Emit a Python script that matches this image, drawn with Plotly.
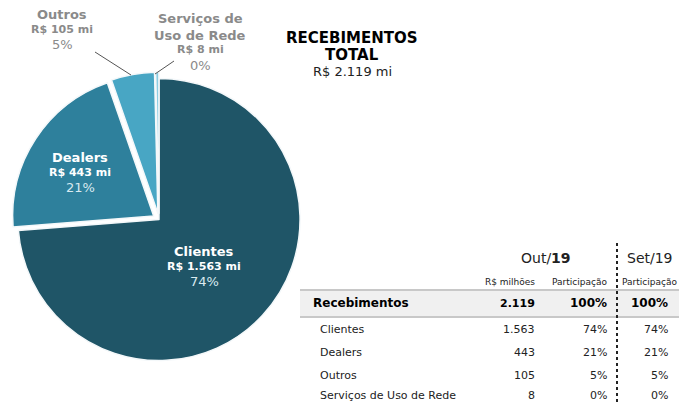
import plotly.graph_objects as go

W, H = 679, 402

categories = ["Clientes", "Dealers", "Outros", "Serviços de Uso de Rede"]
values_mi = [1563, 443, 105, 8]
share_out = [74, 21, 5, 0]
share_set = [74, 21, 5, 0]
total_mi = 2119
colors = ["#1f5567", "#2e809c", "#48a6c4", "#8ccde2"]

FONT = "DejaVu Sans, Verdana, sans-serif"
GRAY = "#8a8a8a"


def br(n):
    return f"{n:,}".replace(",", ".")


def px(x):
    return x / W


def py(y):
    return 1 - y / H


fig = go.Figure()
fig.add_trace(go.Pie(
    labels=categories, values=values_mi, sort=False, direction="clockwise",
    rotation=0, pull=[0, 0.045, 0.045, 0.045], textinfo="none",
    marker=dict(colors=colors, line=dict(color="#f4f8fa", width=1.5)),
    domain=dict(x=[px(11.6), px(306.4)], y=[py(367), py(72)]),
    showlegend=False, hoverinfo="label+value+percent",
))

ann = []


def txt(x, y, s, size=12, color="black", bold=False, anchor="center"):
    if bold:
        s = f"<b>{s}</b>"
    ann.append(dict(x=px(x), y=py(y), xref="paper", yref="paper", text=s,
                    showarrow=False, xanchor=anchor, yanchor="middle",
                    font=dict(family=FONT, size=size, color=color)))


# slice labels
lab_pos = [(204, 251, "white", "#d9eaf0"), (80, 157, "white", "#d9eaf0"),
           (62, 15, GRAY, GRAY), (200, 19, GRAY, GRAY)]
for i, cat in enumerate(categories):
    x, y, c, pc = lab_pos[i]
    names = ["Serviços de", "Uso de Rede"] if i == 3 else [cat]
    for j, nm in enumerate(names):
        txt(x, y + j * 16, nm, 13, c, True)
    yy = y + len(names) * 16 - 1
    txt(x, yy, f"R$ {br(values_mi[i])} mi", 11, c, True)
    txt(x, yy + 15, f"{share_out[i]}%", 13, pc)

# title
txt(352, 38, "RECEBIMENTOS", 15, "black", True)
txt(352, 55, "TOTAL", 15, "black", True)
txt(352, 72, f"R$ {br(total_mi)} mi", 13, "#222")

# table headers
txt(546, 258, "Out/<b>19</b>", 14, "#222")
txt(650, 258, "Set/19", 14, "#222")
txt(537, 282, "R$ milhões", 9, "#222", anchor="right")
txt(609, 282, "Participação", 9, "#222", anchor="right")
txt(679, 282, "Participação", 9, "#222", anchor="right")

# total row
txt(311, 303, "Recebimentos", 12, "black", True, "left")
txt(537, 303, br(total_mi), 11, "black", True, "right")
txt(609, 303, f"{sum(share_out)}%", 12, "black", True, "right")
txt(670, 303, f"{sum(share_set)}%", 12, "black", True, "right")

row_y = [329, 352, 375, 395]
for i, cat in enumerate(categories):
    y = row_y[i]
    txt(318, y, cat, 11, "#222", anchor="left")
    txt(537, y, br(values_mi[i]), 11, "#222", anchor="right")
    txt(609, y, f"{share_out[i]}%", 11, "#222", anchor="right")
    txt(670, y, f"{share_set[i]}%", 11, "#222", anchor="right")

shapes = [
    dict(type="rect", xref="paper", yref="paper", x0=px(300), x1=px(679),
         y0=py(316), y1=py(290), fillcolor="#f0f0f0", line_width=0, layer="below"),
    dict(type="line", xref="paper", yref="paper", x0=px(300), x1=px(679),
         y0=py(290), y1=py(290), line=dict(color="#c8c8c8", width=2)),
    dict(type="line", xref="paper", yref="paper", x0=px(300), x1=px(679),
         y0=py(317), y1=py(317), line=dict(color="#c8c8c8", width=2)),
    dict(type="line", xref="paper", yref="paper", x0=px(617), x1=px(617),
         y0=py(243), y1=py(402), line=dict(color="#222", width=2, dash="dot")),
    # leader lines
    dict(type="line", xref="paper", yref="paper", x0=px(95), x1=px(131),
         y0=py(52), y1=py(75), line=dict(color="#555", width=1)),
    dict(type="line", xref="paper", yref="paper", x0=px(174), x1=px(155),
         y0=py(61), y1=py(74), line=dict(color="#555", width=1)),
]

fig.update_layout(
    width=W, height=H, margin=dict(l=0, r=0, t=0, b=0),
    paper_bgcolor="white", plot_bgcolor="white",
    annotations=ann, shapes=shapes,
    font=dict(family=FONT),
)

fig.write_html("out.html", config={"displayModeBar": False},
               post_script="document.body.style.margin='0';")
